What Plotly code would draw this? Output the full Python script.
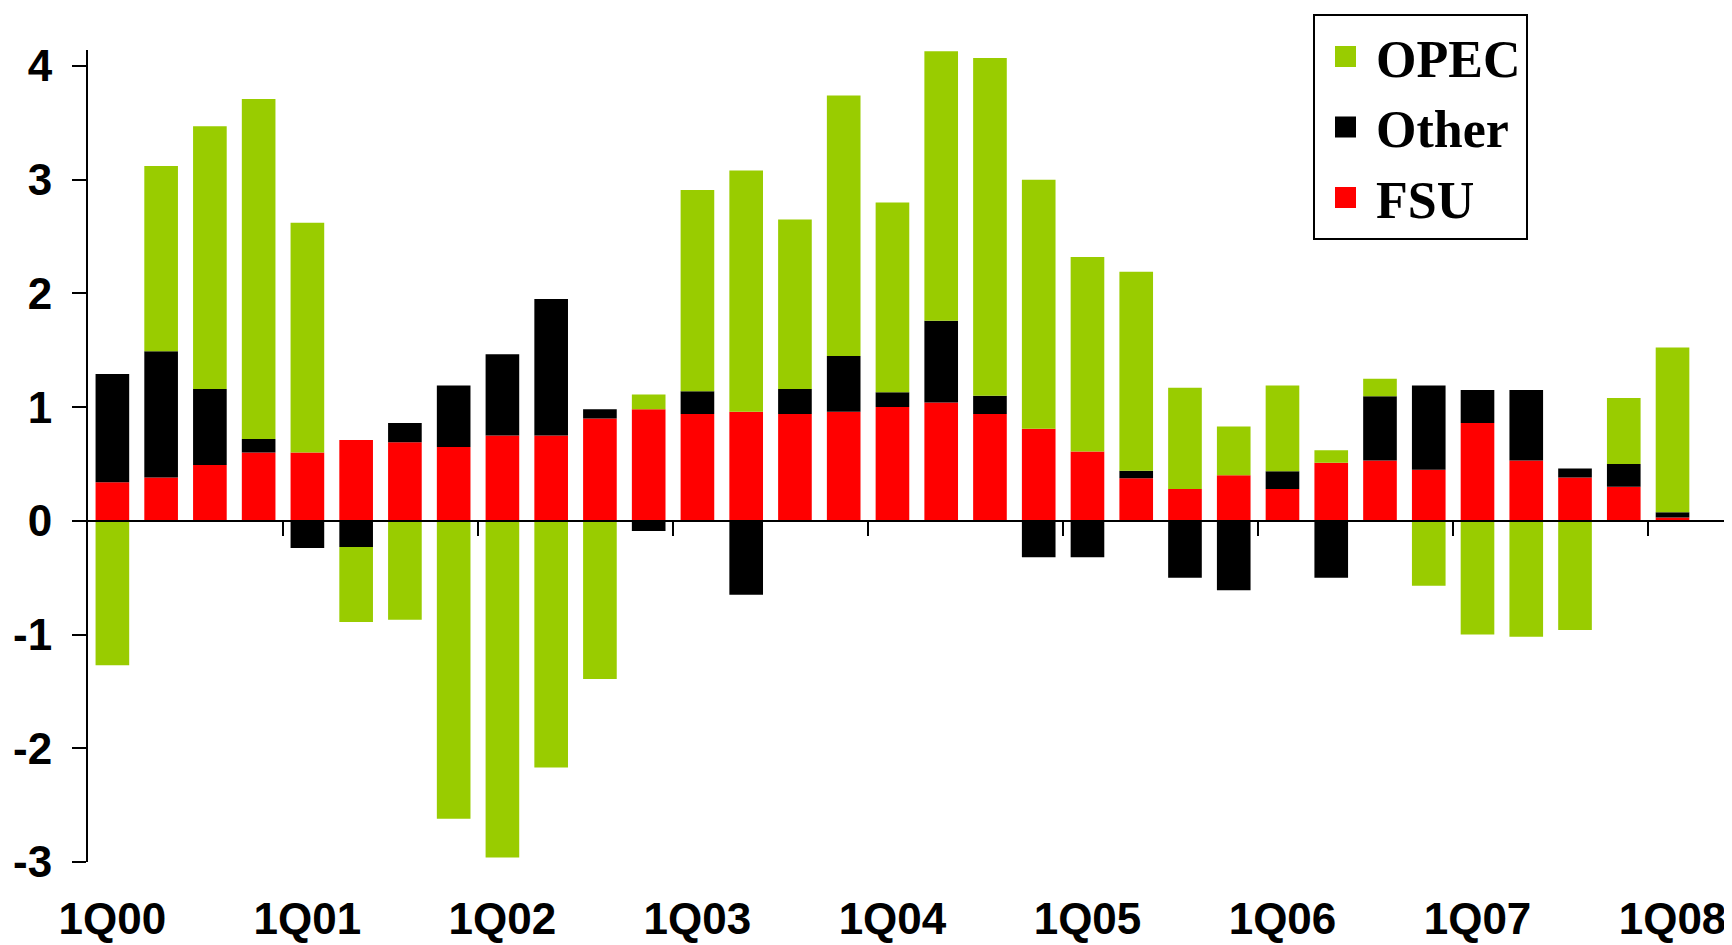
import plotly.graph_objects as go

quarters = ["1Q00", "2Q00", "3Q00", "4Q00",
            "1Q01", "2Q01", "3Q01", "4Q01",
            "1Q02", "2Q02", "3Q02", "4Q02",
            "1Q03", "2Q03", "3Q03", "4Q03",
            "1Q04", "2Q04", "3Q04", "4Q04",
            "1Q05", "2Q05", "3Q05", "4Q05",
            "1Q06", "2Q06", "3Q06", "4Q06",
            "1Q07", "2Q07", "3Q07", "4Q07",
            "1Q08"]

fsu = [0.34, 0.38, 0.49, 0.60, 0.60, 0.71, 0.69, 0.65, 0.75, 0.75, 0.90,
       0.98, 0.94, 0.96, 0.94, 0.96, 1.00, 1.04, 0.94, 0.81, 0.61, 0.375,
       0.28, 0.40, 0.28, 0.51, 0.53, 0.45, 0.86, 0.53, 0.38, 0.30, 0.03]
other = [0.95, 1.11, 0.67, 0.12, -0.24, -0.23, 0.17, 0.54, 0.715, 1.20, 0.08,
         -0.09, 0.20, -0.65, 0.22, 0.49, 0.13, 0.72, 0.16, -0.32, -0.32, 0.065,
         -0.50, -0.61, 0.155, -0.50, 0.565, 0.74, 0.29, 0.62, 0.08, 0.20, 0.045]
opec = [-1.27, 1.63, 2.31, 2.99, 2.02, -0.66, -0.87, -2.62, -2.96, -2.17, -1.39,
        0.13, 1.77, 2.12, 1.49, 2.29, 1.67, 2.37, 2.97, 2.19, 1.71, 1.75,
        0.89, 0.43, 0.755, 0.11, 0.155, -0.57, -1.00, -1.02, -0.96, 0.58, 1.45]

y_ticks = [-3, -2, -1, 0, 1, 2, 3, 4]
y_tick_text = ["-3", "-2", "-1", "0", "1", "2", "3", "4"]

colors = {"OPEC": "#99CC00", "Other": "#000000", "FSU": "#FF0000"}

idx = list(range(len(quarters)))
label_pos = [i for i, q in enumerate(quarters) if q.startswith("1Q")]
label_txt = [quarters[i] for i in label_pos]
year_bounds = [i - 0.5 for i in label_pos if i > 0]

y_min, y_max = -3, 4.14
x_min, x_max = -0.5, 33.22

fig = go.Figure()
for name, vals in [("FSU", fsu), ("Other", other), ("OPEC", opec)]:
    fig.add_trace(go.Bar(x=idx, y=vals, name=name, legendgroup=name,
                         marker=dict(color=colors[name], line=dict(width=0)),
                         showlegend=False))

# legend entries (OPEC, Other, FSU from top)
for name in ["OPEC", "Other", "FSU"]:
    fig.add_trace(go.Scatter(x=[None], y=[None], mode="markers", name=name,
                             legendgroup=name, xaxis="x2",
                             marker=dict(symbol="square", size=16, color=colors[name],
                                         line=dict(width=5, color=colors[name]))))

tick_font = dict(family="Liberation Sans, Arial, sans-serif", size=44,
                 color="black", weight="bold")

# the page body adds an 8px offset; figure size/margins compensate for it
fig.update_layout(
    width=1724, height=937,
    margin=dict(l=80, r=0, t=42, b=83, autoexpand=False),
    paper_bgcolor="white", plot_bgcolor="white",
    barmode="relative", bargap=0.31,
    xaxis=dict(range=[x_min, x_max], tickmode="array", tickvals=label_pos,
               ticktext=label_txt, showline=False, showgrid=False, zeroline=False,
               ticks="", tickfont=tick_font, ticklabelstandoff=27),
    xaxis2=dict(overlaying="x", anchor="free",
                position=(0 - y_min) / (y_max - y_min),
                range=[x_min, x_max], showline=True, linecolor="black", linewidth=2,
                ticks="outside", ticklen=14, tickwidth=2, tickcolor="black",
                tickmode="array", tickvals=year_bounds, showticklabels=False,
                showgrid=False, zeroline=False),
    yaxis=dict(range=[y_min, y_max], tickmode="array", tickvals=y_ticks,
               ticktext=y_tick_text,
               showline=True, linecolor="black", linewidth=2,
               ticks="outside", ticklen=14, tickwidth=2, tickcolor="black",
               showgrid=False, zeroline=False, tickfont=tick_font,
               ticklabelstandoff=11),
    legend=dict(x=(1313 - 88) / 1644, y=(862.4 - 14) / 812.5,
                xanchor="left", yanchor="top",
                bgcolor="white", bordercolor="black", borderwidth=2,
                font=dict(family="Liberation Serif, Times New Roman, serif",
                          size=52, color="black", weight="bold"),
                traceorder="normal", itemwidth=51),
)

fig.write_html("out.html")
